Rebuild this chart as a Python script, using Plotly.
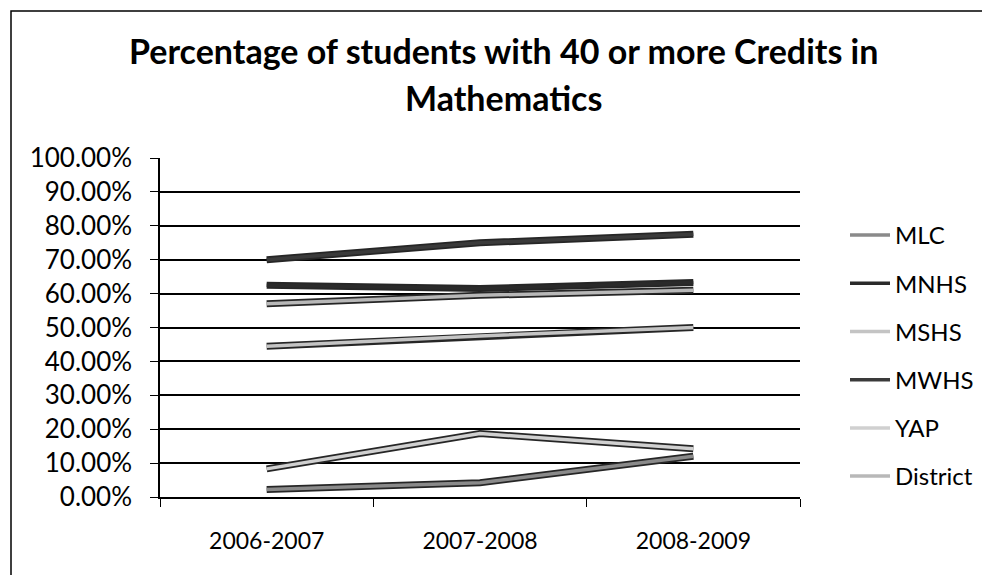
import plotly.graph_objects as go

years = ["2006-2007", "2007-2008", "2008-2009"]
schools = ["MLC", "MNHS", "MSHS", "MWHS", "YAP", "District"]

mlc = [0.022, 0.042, 0.120]
mnhs = [0.625, 0.615, 0.633]
mshs = [0.445, 0.475, 0.500]
mwhs = [0.700, 0.750, 0.775]
yap = [0.083, 0.187, 0.142]
district = [0.570, 0.595, 0.610]

values = [mlc, mnhs, mshs, mwhs, yap, district]
# fill colour of each line, greyscale like the printed original
fills = ["#8a8a8a", "#2a2a2a", "#c4c4c4", "#3a3a3a", "#d0d0d0", "#b8b8b8"]

W, H = 990, 575
L, R, T, B = 152, 198, 150, 86
pw, ph = W - L - R, H - T - B

fig = go.Figure()
for name, vals, col in zip(schools, values, fills):
    # dark outline underneath
    fig.add_trace(go.Scatter(
        x=years, y=vals, mode="lines", legendgroup=name, showlegend=False,
        line=dict(color="#262626", width=7), hoverinfo="skip"
    ))
    fig.add_trace(go.Scatter(
        x=years, y=vals, mode="lines", name=name, legendgroup=name,
        line=dict(color=col, width=3.5)
    ))

font = "Lato, 'Open Sans', sans-serif"

def py(px):
    # pixel row from top of figure -> paper y
    return 1 + (T - px) / ph

fig.update_layout(
    width=W, height=H,
    margin=dict(l=L, r=R, t=T, b=B),
    paper_bgcolor="white", plot_bgcolor="white",
    font=dict(family=font, size=23, color="black"),
    legend=dict(
        x=(837 - L) / pw, xanchor="left", y=py(348), yanchor="middle",
        traceorder="grouped", tracegroupgap=14, itemwidth=40,
        font=dict(size=24),
    ),
    showlegend=True,
)
title_lines = ["Percentage of students with 40 or more Credits in", "Mathematics"]
for txt, ypx in zip(title_lines, [43, 89]):
    fig.add_annotation(
        text="<b>%s</b>" % txt, xref="paper", yref="paper",
        x=(495 - L) / pw, y=py(ypx), xanchor="center", yanchor="middle",
        showarrow=False, font=dict(family=font, size=34, color="black"),
    )

fig.update_xaxes(
    type="category", range=[-0.5, 2.5], showgrid=False, showline=True,
    linecolor="black", linewidth=1.5,
    ticks="outside", tickson="boundaries", ticklen=8, tickcolor="black",
    tickfont=dict(size=23), ticklabelstandoff=23,
)
fig.update_yaxes(
    range=[0, 1], dtick=0.1, tickformat=".2%", showgrid=True, gridcolor="black",
    gridwidth=1.5, showline=True, linecolor="black", linewidth=1.5,
    ticks="outside", ticklen=8, tickcolor="black", zeroline=False,
    tickfont=dict(size=26), ticklabelstandoff=13,
)

# outer chart frame
fig.add_shape(
    type="rect", xref="paper", yref="paper",
    x0=(3 - L) / pw, x1=(W - 3 - L) / pw,
    y0=py(H + 10), y1=py(3),
    line=dict(color="black", width=1.5),
)

fig.write_html("out.html")
